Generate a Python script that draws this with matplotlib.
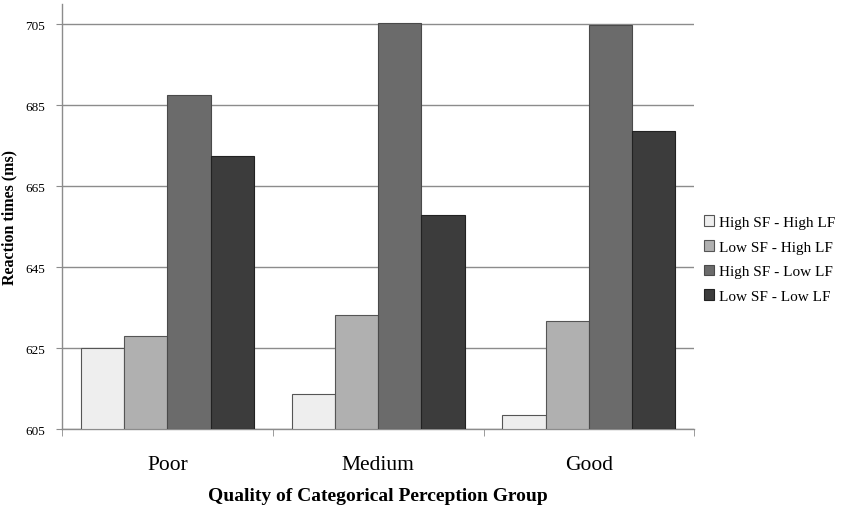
import matplotlib
matplotlib.use("Agg")
import matplotlib.pyplot as plt
import numpy as np

plt.rcParams["font.family"] = ["Liberation Serif", "DejaVu Serif"]

groups = ["Poor", "Medium", "Good"]
series = ["High SF - High LF", "Low SF - High LF", "High SF - Low LF", "Low SF - Low LF"]
hs_hl = [625.1, 613.7, 608.5]
ls_hl = [628.1, 633.2, 631.8]
hs_ll = [687.5, 705.3, 704.8]
ls_ll = [672.4, 657.8, 678.6]
values = [hs_hl, ls_hl, hs_ll, ls_ll]
colors = ["#eeeeee", "#b0b0b0", "#6b6b6b", "#3c3c3c"]
edges = ["#555555", "#555555", "#4a4a4a", "#222222"]

fig = plt.figure(figsize=(8.59, 5.06), dpi=100)
ax = fig.add_axes([0.0722, 0.150, 0.736, 0.840])

x = np.arange(len(groups))
w = 0.205
for i, (vals, c, ec, lab) in enumerate(zip(values, colors, edges, series)):
    ax.bar(x + (i - 1.5) * w, np.array(vals) - 605, w, bottom=605, color=c,
           edgecolor=ec, linewidth=0.8, label=lab, zorder=3)

ax.set_xlim(-0.5, 2.5)
ax.set_ylim(605, 710)
ax.set_yticks([605, 625, 645, 665, 685, 705])
ax.yaxis.grid(True, color="#8c8c8c", linewidth=1.0, zorder=0)
ax.tick_params(axis="y", labelsize=9.5, length=4, color="#8c8c8c", pad=8)

# category labels and boundary tick marks
ax.set_xticks(x)
ax.set_xticklabels(groups, fontsize=15.5)
ax.tick_params(axis="x", length=0, pad=19)
ax.set_xticks([-0.5, 0.5, 1.5, 2.5], minor=True)
ax.tick_params(axis="x", which="minor", length=5, color="#8c8c8c")

for s in ("top", "right"):
    ax.spines[s].set_visible(False)
for s in ("left", "bottom"):
    ax.spines[s].set_color("#8c8c8c")
    ax.spines[s].set_linewidth(1.0)

ax.set_ylabel("Reaction times (ms)", fontsize=11.5, fontweight="bold")
ax.yaxis.set_label_coords(-0.071, 0.5)
ax.set_xlabel("Quality of Categorical Perception Group", fontsize=14, fontweight="bold",
              labelpad=9)

ax.legend(loc="center left", bbox_to_anchor=(1.005, 0.40), frameon=False, fontsize=11,
          handlelength=0.7, handleheight=0.7, handletextpad=0.3, labelspacing=0.72,
          borderaxespad=0)

fig.savefig("out.png", dpi=100)
